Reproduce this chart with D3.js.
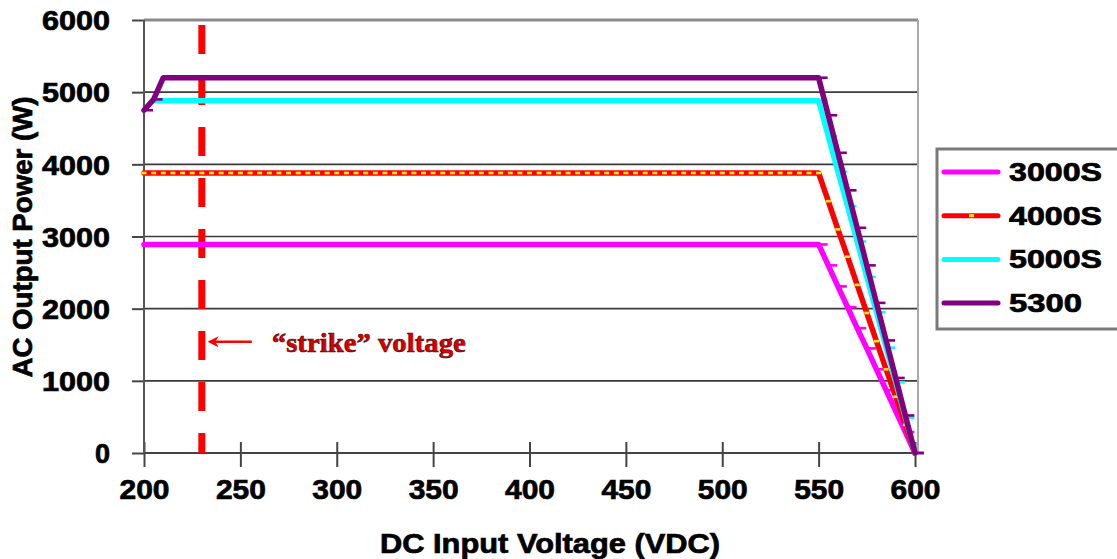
<!DOCTYPE html>
<html>
<head>
<meta charset="utf-8">
<script src="https://cdn.jsdelivr.net/npm/d3@7"></script>
<style>
  body { margin: 0; background: #fff; }
  svg { display: block; }
</style>
</head>
<body>
<div id="chart"></div>
<script>
// DC input voltage (x) for every data point
const voltages = [
  200, 205, 210, 215, 220, 225, 230, 235, 240, 245,
  250, 255, 260, 265, 270, 275, 280, 285, 290, 295,
  300, 305, 310, 315, 320, 325, 330, 335, 340, 345,
  350, 355, 360, 365, 370, 375, 380, 385, 390, 395,
  400, 405, 410, 415, 420, 425, 430, 435, 440, 445,
  450, 455, 460, 465, 470, 475, 480, 485, 490, 495,
  500, 505, 510, 515, 520, 525, 530, 535, 540, 545,
  550, 555, 560, 565, 570, 575, 580, 585, 590, 595,
  600
];

// AC output power (W) per model, one value per voltage above
const power3000S = [
  2890, 2890, 2890, 2890, 2890, 2890, 2890, 2890, 2890, 2890,
  2890, 2890, 2890, 2890, 2890, 2890, 2890, 2890, 2890, 2890,
  2890, 2890, 2890, 2890, 2890, 2890, 2890, 2890, 2890, 2890,
  2890, 2890, 2890, 2890, 2890, 2890, 2890, 2890, 2890, 2890,
  2890, 2890, 2890, 2890, 2890, 2890, 2890, 2890, 2890, 2890,
  2890, 2890, 2890, 2890, 2890, 2890, 2890, 2890, 2890, 2890,
  2890, 2890, 2890, 2890, 2890, 2890, 2890, 2890, 2890, 2890,
  2890, 2600, 2310, 2020, 1730, 1450, 1160, 870, 580, 290,
  0
];
const power4000S = [
  3880, 3880, 3880, 3880, 3880, 3880, 3880, 3880, 3880, 3880,
  3880, 3880, 3880, 3880, 3880, 3880, 3880, 3880, 3880, 3880,
  3880, 3880, 3880, 3880, 3880, 3880, 3880, 3880, 3880, 3880,
  3880, 3880, 3880, 3880, 3880, 3880, 3880, 3880, 3880, 3880,
  3880, 3880, 3880, 3880, 3880, 3880, 3880, 3880, 3880, 3880,
  3880, 3880, 3880, 3880, 3880, 3880, 3880, 3880, 3880, 3880,
  3880, 3880, 3880, 3880, 3880, 3880, 3880, 3880, 3880, 3880,
  3880, 3490, 3100, 2720, 2330, 1940, 1550, 1160, 780, 390,
  0
];
const power5000S = [
  null, 4880, 4880, 4880, 4880, 4880, 4880, 4880, 4880, 4880,
  4880, 4880, 4880, 4880, 4880, 4880, 4880, 4880, 4880, 4880,
  4880, 4880, 4880, 4880, 4880, 4880, 4880, 4880, 4880, 4880,
  4880, 4880, 4880, 4880, 4880, 4880, 4880, 4880, 4880, 4880,
  4880, 4880, 4880, 4880, 4880, 4880, 4880, 4880, 4880, 4880,
  4880, 4880, 4880, 4880, 4880, 4880, 4880, 4880, 4880, 4880,
  4880, 4880, 4880, 4880, 4880, 4880, 4880, 4880, 4880, 4880,
  4880, 4390, 3900, 3420, 2930, 2440, 1950, 1460, 980, 490,
  0
];
const power5300 = [
  4750, 4900, 5200, 5200, 5200, 5200, 5200, 5200, 5200, 5200,
  5200, 5200, 5200, 5200, 5200, 5200, 5200, 5200, 5200, 5200,
  5200, 5200, 5200, 5200, 5200, 5200, 5200, 5200, 5200, 5200,
  5200, 5200, 5200, 5200, 5200, 5200, 5200, 5200, 5200, 5200,
  5200, 5200, 5200, 5200, 5200, 5200, 5200, 5200, 5200, 5200,
  5200, 5200, 5200, 5200, 5200, 5200, 5200, 5200, 5200, 5200,
  5200, 5200, 5200, 5200, 5200, 5200, 5200, 5200, 5200, 5200,
  5200, 4680, 4160, 3640, 3120, 2600, 2080, 1560, 1040, 520,
  0
];

const seriesNames = ["3000S", "4000S", "5000S", "5300"];
const xTicks = [200, 250, 300, 350, 400, 450, 500, 550, 600];
const yTicks = [0, 1000, 2000, 3000, 4000, 5000, 6000];
const strikeVoltage = 230;
const strikeLabel = "\u201Cstrike\u201D voltage";
const xTitle = "DC Input Voltage (VDC)";
const yTitle = "AC Output Power (W)";

// styles
const colors = ["#ff00ff", "#ff0000", "#00ffff", "#800080"];
const markers = ["dash", "dot", "dash", "dash"];
const sans = "'Liberation Sans', Arial, sans-serif";
const serif = "'Liberation Serif', 'Times New Roman', serif";

const W = 1117, H = 559;
const plot = { left: 144, right: 918, top: 20, bottom: 453 };

const svg = d3.select("#chart").append("svg")
    .attr("width", W)
    .attr("height", H);

const x = d3.scaleLinear().domain([200, 600]).range([plot.left, 915]);
const y = d3.scaleLinear().domain([0, 6000]).range([plot.bottom, plot.top]);

// heavy black label text, like the pixelated excel export
function boldText(sel, size) {
    sel.style("font-family", sans)
        .style("font-size", size + "px")
        .style("font-weight", "bold")
        .style("fill", "#000")
        .style("stroke", "#000")
        .style("stroke-width", 0.7);
}

// gridlines (skip 0 and the top one, the border draws that)
svg.append("g")
    .selectAll("line")
    .data(yTicks.filter(d => d > 0 && d < 6000))
    .enter().append("line")
        .attr("x1", plot.left)
        .attr("x2", plot.right)
        .attr("y1", d => y(d))
        .attr("y2", d => y(d))
        .style("stroke", "#3a3a3a")
        .style("stroke-width", 1.6);

// plot area border: top and right in gray
svg.append("line")
    .attr("x1", plot.left).attr("x2", plot.right)
    .attr("y1", plot.top).attr("y2", plot.top)
    .style("stroke", "#8a8a8a").style("stroke-width", 3);
svg.append("line")
    .attr("x1", plot.right).attr("x2", plot.right)
    .attr("y1", plot.top).attr("y2", plot.bottom)
    .style("stroke", "#a8a8a8").style("stroke-width", 2);

// x axis
const xAxis = svg.append("g")
    .attr("transform", `translate(0,${plot.bottom})`)
    .call(d3.axisBottom(x).tickValues(xTicks).tickSizeInner(12).tickSizeOuter(0).tickFormat(d3.format("d")));
xAxis.select(".domain").remove();
xAxis.append("line")
    .attr("x1", plot.left).attr("x2", plot.right)
    .style("stroke", "#444").style("stroke-width", 2);
xAxis.selectAll(".tick line")
    .attr("y1", -11).attr("y2", 14)
    .style("stroke", "#444").style("stroke-width", 2);
xAxis.selectAll(".tick text")
    .attr("y", 46).attr("dy", null)
    .call(boldText, 28)
    .attr("textLength", 50)
    .attr("lengthAdjust", "spacingAndGlyphs");

// y axis
const yAxis = svg.append("g")
    .attr("transform", `translate(${plot.left},0)`)
    .call(d3.axisLeft(y).tickValues(yTicks).tickSizeInner(12).tickSizeOuter(0).tickFormat(d3.format("d")));
yAxis.select(".domain").remove();
yAxis.append("line")
    .attr("y1", plot.top).attr("y2", plot.bottom)
    .style("stroke", "#555").style("stroke-width", 2);
yAxis.selectAll(".tick line")
    .style("stroke", "#444").style("stroke-width", 2);
yAxis.selectAll(".tick text")
    .attr("x", -34).attr("dy", "0.36em")
    .call(boldText, 27)
    .each(function(d) {
        const s = String(d);
        if (s.length > 1) {
            d3.select(this).attr("textLength", s.length * 17).attr("lengthAdjust", "spacingAndGlyphs");
        }
    });

// axis titles
svg.append("text")
    .attr("x", 550)
    .attr("y", 553)
    .style("text-anchor", "middle")
    .call(boldText, 27)
    .attr("textLength", 340)
    .attr("lengthAdjust", "spacingAndGlyphs")
    .text(xTitle);

svg.append("text")
    .attr("transform", "translate(32,237) rotate(-90)")
    .style("text-anchor", "middle")
    .call(boldText, 27)
    .attr("textLength", 281)
    .attr("lengthAdjust", "spacingAndGlyphs")
    .text(yTitle);

// "strike" voltage dashed marker line
svg.append("line")
    .attr("x1", x(strikeVoltage)).attr("x2", x(strikeVoltage))
    .attr("y1", y(6000)).attr("y2", y(0))
    .style("stroke", "#ff0000")
    .style("stroke-width", 7)
    .style("stroke-dasharray", "29,22")
    .style("stroke-dashoffset", 46);

// series
const series = seriesNames.map((name, i) => ({
    name: name,
    color: colors[i],
    marker: markers[i],
    values: [power3000S, power4000S, power5000S, power5300][i]
        .map((w, j) => ({ v: voltages[j], w: w }))
}));

const line = d3.line()
    .defined(d => d.w != null)
    .x(d => x(d.v))
    .y(d => y(d.w));

series.forEach(s => {
    const g = svg.append("g").attr("class", "series");
    g.append("path")
        .datum(s.values)
        .attr("fill", "none")
        .attr("d", line)
        .style("stroke", s.color)
        .style("stroke-width", 5.5)
        .style("stroke-linejoin", "round")
        .style("stroke-linecap", "round");

    const pts = s.values.filter(d => d.w != null);
    if (s.marker == "dot") {
        g.selectAll("rect")
            .data(pts)
            .enter().append("rect")
                .attr("x", d => x(d.v) - 2.5)
                .attr("y", d => y(d.w) - 1.3)
                .attr("width", 5)
                .attr("height", 2.6)
                .attr("fill", "#ffee00");
    } else {
        g.selectAll("rect")
            .data(pts)
            .enter().append("rect")
                .attr("x", d => x(d.v))
                .attr("y", d => y(d.w) - 1.3)
                .attr("width", 9)
                .attr("height", 2.6)
                .attr("fill", s.color);
    }
});

// arrow + label for strike voltage
svg.append("defs").append("marker")
    .attr("id", "arrowhead")
    .attr("viewBox", "0 0 10 10")
    .attr("refX", 8).attr("refY", 5)
    .attr("markerUnits", "userSpaceOnUse")
    .attr("markerWidth", 14).attr("markerHeight", 11)
    .attr("orient", "auto")
    .append("path")
        .attr("d", "M0,0 L10,5 L0,10 L3,5 Z")
        .attr("fill", "#ff0000");

const arrowY = y(1540);
svg.append("line")
    .attr("x1", x(strikeVoltage) + 50).attr("x2", x(strikeVoltage) + 8)
    .attr("y1", arrowY).attr("y2", arrowY)
    .style("stroke", "#ff0000")
    .style("stroke-width", 2.5)
    .attr("marker-end", "url(#arrowhead)");

svg.append("text")
    .attr("x", x(strikeVoltage) + 70)
    .attr("y", arrowY + 10)
    .style("font-family", serif)
    .style("font-size", "28px")
    .style("font-weight", "bold")
    .style("fill", "#d80000")
    .style("stroke", "#500000")
    .style("stroke-width", 0.6)
    .attr("textLength", 194)
    .attr("lengthAdjust", "spacingAndGlyphs")
    .text(strikeLabel);

// legend
const legend = svg.append("g").attr("class", "legend");
legend.append("rect")
    .attr("x", 937).attr("y", 149)
    .attr("width", 220).attr("height", 180)
    .attr("fill", "#fff")
    .style("stroke", "#7a7a7a")
    .style("stroke-width", 3);

const item = legend.selectAll(".item")
    .data(series)
    .enter().append("g")
    .attr("class", "item")
    .attr("transform", (d, i) => `translate(0,${172 + i * 43.7})`);

item.append("line")
    .attr("x1", 944).attr("x2", 998)
    .style("stroke", d => d.color)
    .style("stroke-width", 5)
    .style("stroke-linecap", "round");
item.filter(d => d.marker == "dot").append("rect")
    .attr("x", 969).attr("y", -1.5)
    .attr("width", 5).attr("height", 3)
    .attr("fill", "#ffee00");
item.append("text")
    .attr("x", 1009)
    .attr("y", 9)
    .call(boldText, 25)
    .attr("textLength", d => d.name.length == 5 ? 93 : 73)
    .attr("lengthAdjust", "spacingAndGlyphs")
    .text(d => d.name);
</script>
</body>
</html>
